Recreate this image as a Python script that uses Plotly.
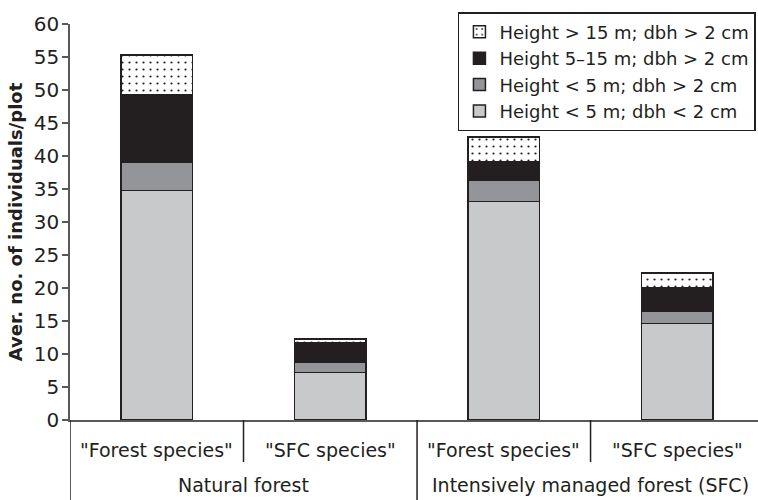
import plotly.graph_objects as go

# ---- data ----
groups = ["Natural forest", "Natural forest",
          "Intensively managed forest (SFC)", "Intensively managed forest (SFC)"]
species = ['"Forest species"', '"SFC species"', '"Forest species"', '"SFC species"']
group_labels = ["Natural forest", "Intensively managed forest (SFC)"]

# heights of each stacked segment (average individuals per plot)
h_lt5_dbh_lt2 = [34.8, 7.2, 33.1, 14.6]
h_lt5_dbh_gt2 = [4.2, 1.6, 3.3, 1.9]
h_5to15 = [10.3, 2.9, 2.8, 3.6]
h_gt15 = [6.0, 0.6, 3.7, 2.2]

names = ["Height &lt; 5 m; dbh &lt; 2 cm",
         "Height &lt; 5 m; dbh &gt; 2 cm",
         "Height 5–15 m; dbh &gt; 2 cm",
         "Height &gt; 15 m; dbh &gt; 2 cm"]

y_ticks = [0, 5, 10, 15, 20, 25, 30, 35, 40, 45, 50, 55, 60]

INK = "#231f20"
AXIS = "#58595b"
FONT = "DejaVu Sans"

W, H = 758, 500
M_L, M_R, M_T, M_B = 70, 0, 24, 80
PLOT_H = H - M_T - M_B

fig = go.Figure()
series = [h_lt5_dbh_lt2, h_lt5_dbh_gt2, h_5to15, h_gt15]
colors = ["#c8c9cb", "#939598", INK, "white"]
for vals, name, col in zip(series, names, colors):
    marker = dict(color=col, line=dict(color=INK, width=1.5))
    if col == "white":
        marker["pattern"] = dict(shape=".", fgcolor=INK, bgcolor="white",
                                 size=7, solidity=0.08, fillmode="replace")
    fig.add_trace(go.Bar(x=[groups, species], y=vals, name=name,
                         marker=marker, width=0.41))

fig.update_layout(
    barmode="stack",
    width=W, height=H,
    margin=dict(l=M_L, r=M_R, t=M_T, b=M_B),
    paper_bgcolor="white", plot_bgcolor="white",
    font=dict(family=FONT, size=18, color=INK),
    legend=dict(x=0.997, xanchor="right", y=1.03, yanchor="top",
                bordercolor=INK, borderwidth=1.5, bgcolor="white",
                font=dict(family=FONT, size=18, color=INK)),
    showlegend=True,
)
fig.update_yaxes(range=[0, 60], tickvals=y_ticks, ticks="outside", ticklen=6,
                 tickwidth=1.5, tickcolor=AXIS, showline=True, linecolor=AXIS,
                 linewidth=1.5, showgrid=False, zeroline=False, automargin=False,
                 ticklabelstandoff=-1,
                 tickfont=dict(family=FONT, size=20, color=INK),
                 title=dict(text="Aver. no. of individuals/plot", standoff=6,
                            font=dict(family=FONT, size=18, color=INK, weight="bold")))
fig.update_xaxes(type="multicategory", range=[-0.5, 3.465], showline=True,
                 linecolor=AXIS, linewidth=1.5, ticks="", showgrid=False,
                 showticklabels=False, showdividers=False, automargin=False)

# category labels (inner level: species; outer level: forest type)
for i, lab in enumerate(species):
    fig.add_annotation(x=i, y=0, xref="x", yref="paper", text=lab,
                       showarrow=False, yanchor="middle", yshift=-30,
                       font=dict(family=FONT, size=19, color=INK))
for j, lab in enumerate(group_labels):
    fig.add_annotation(x=2 * j + 0.5, y=0, xref="x", yref="paper", text=lab,
                       showarrow=False, yanchor="middle", yshift=-65,
                       font=dict(family=FONT, size=19, color=INK))

# dividers: full height between forest types, short between species
for xv, depth in [(-0.5, 80), (0.5, 42), (1.5, 80), (2.5, 42)]:
    fig.add_shape(type="line", xref="x", yref="paper", x0=xv, x1=xv,
                  y0=0, y1=-depth / PLOT_H, line=dict(color=INK, width=1.5))

fig.write_html("out.html", config={"displayModeBar": False},
               post_script="document.body.style.margin='0';")
